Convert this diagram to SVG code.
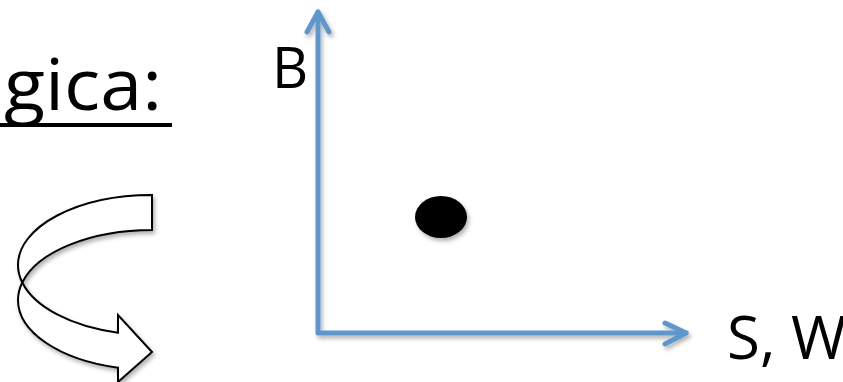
<svg xmlns="http://www.w3.org/2000/svg" width="843" height="382" viewBox="0 0 843 382">
<style>
.lbl{font-family:"Open Sans","Liberation Sans",sans-serif;fill:#000}
.axis{stroke:#5e97cd;stroke-width:5;fill:none;stroke-linecap:round;stroke-linejoin:round}
.band{fill:#fff;stroke:#000;stroke-width:2;stroke-linejoin:miter}
</style>
<defs>
<filter id="sh" x="-20%" y="-20%" width="140%" height="140%">
<feDropShadow dx="2" dy="3" stdDeviation="2" flood-color="#000" flood-opacity="0.3"/>
</filter>
</defs>
<g id="title">
<text class="lbl" x="4" y="110" font-size="71" textLength="158" lengthAdjust="spacingAndGlyphs">gica:</text>
<rect x="0" y="123" width="172" height="4" fill="#000"/>
</g>
<g id="curved-arrow" filter="url(#sh)">
<path class="band" d="M152,195 A134,70 0 0 0 18,265 A134,70 0 0 0 22.26,282.5 A134,70 0 0 1 152,230 Z"/>
<path class="band" d="M22.26,282.5 A134,70 0 0 0 118,332.71 L118,315 L152,352 L118,382 L118,367.71 A134,70 0 0 1 18,300 A134,70 0 0 1 22.26,282.5 Z"/>
</g>
<g id="connectors" filter="url(#sh)">
<path class="axis" d="M318,12 L318,333 L686,333"/>
<path class="axis" d="M307,32 L318,12 L329,32"/>
<path class="axis" d="M665,323 L686,333 L665,344"/>
</g>
<g id="label-B"><text class="lbl" x="272" y="88" font-size="56">B</text></g>
<g id="label-SW"><text class="lbl" x="727" y="359" font-size="60">S, W</text></g>
<g id="dot"><ellipse cx="441" cy="217" rx="26" ry="21" fill="#000" filter="url(#sh)"/></g>
</svg>
